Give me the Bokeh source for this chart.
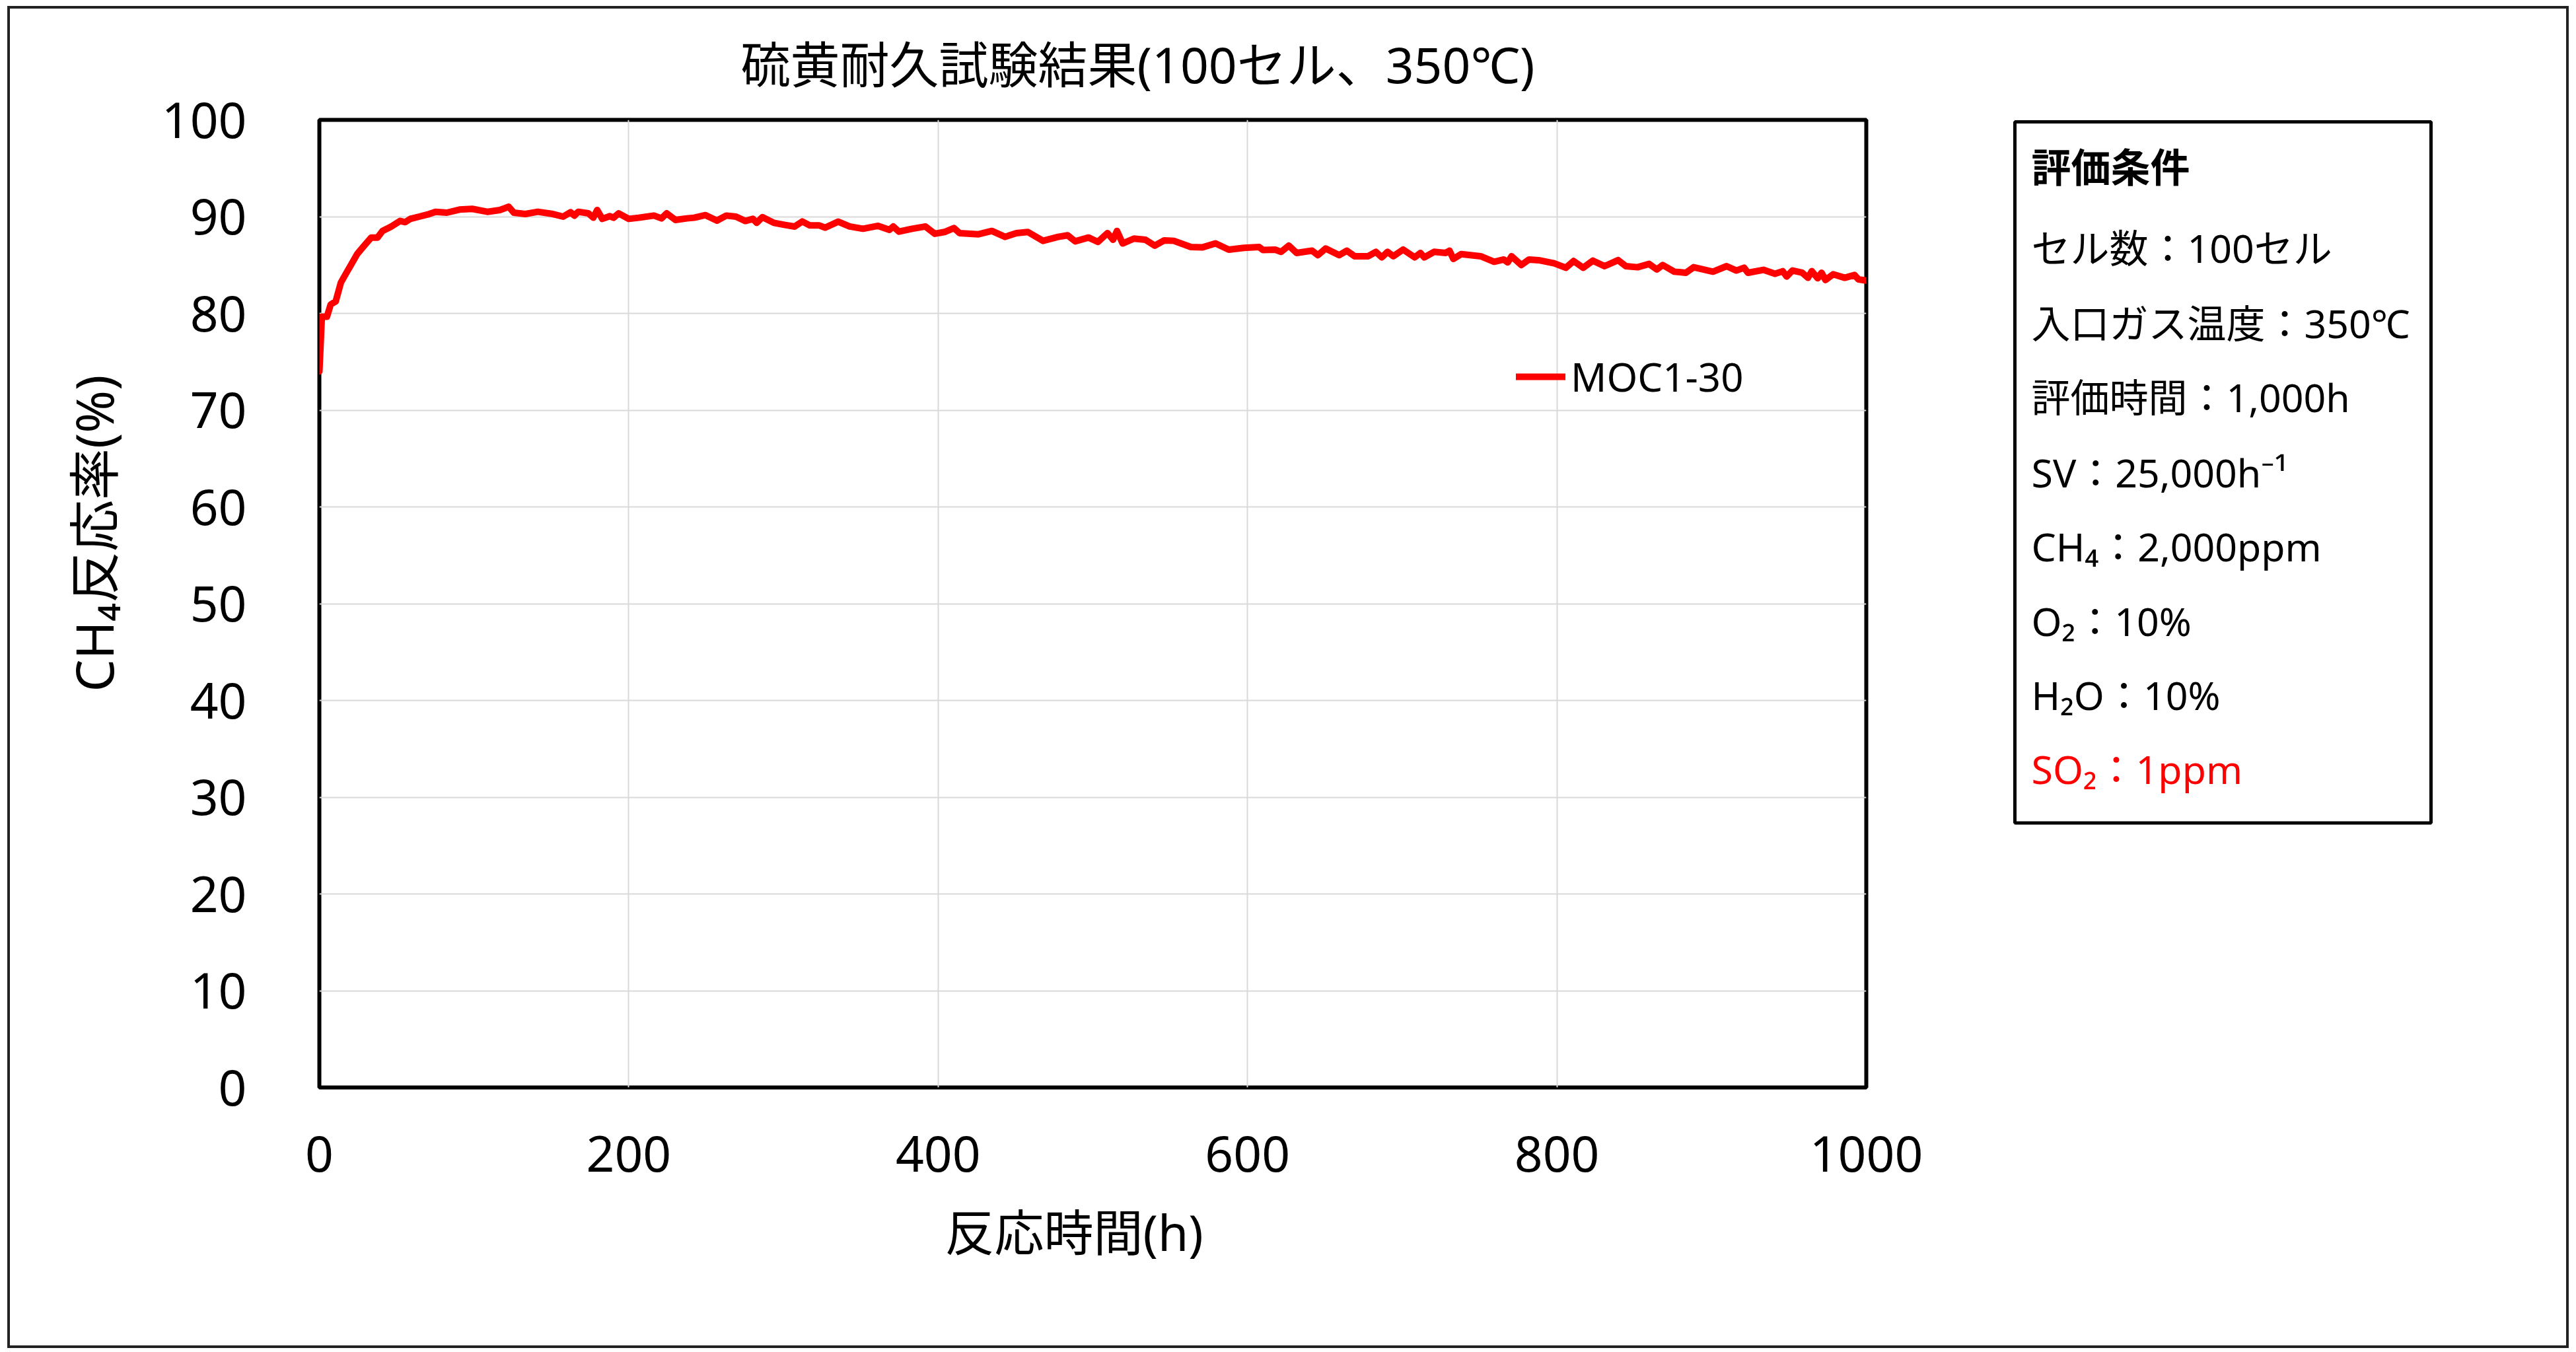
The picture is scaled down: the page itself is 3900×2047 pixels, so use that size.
from bokeh.plotting import figure
from bokeh.layouts import row
from bokeh.models import Range1d, FixedTicker, Title
from bokeh.core.properties import value
from bokeh.embed import file_html
from bokeh.resources import INLINE

# ---------------- data ----------------
hours = [0, 1.6, 4.9, 7.3, 10.6, 13.9, 17.1, 20.4, 24.5, 28.6, 33.5, 37.6, 40.8, 46.5,
         52.2, 55.5, 58.8, 64.5, 71, 75.1, 82.4, 90.6, 98.8, 108.6, 116.7, 122.4, 125.7,
         133.1, 141.2, 151, 157.6, 162.4, 164.9, 167.3, 173.9, 177.1, 179.6, 182.9, 187.8,
         190.2, 193.5, 200, 206.5, 216.3, 221.2, 224.5, 230.2, 237.6,
         242.3, 249.6, 257, 263.1, 269.3, 275.4, 280.3, 282.7, 286.4, 293.8, 301.1, 307.3,
         312.2, 317.1, 323.2, 326.9, 335.4, 342.8, 351.4, 361.2, 368.5, 371, 374.7, 383.2,
         391.8, 397.9, 404.1, 410.2, 413.9, 426.1, 434.7, 443.3, 450.6, 458, 467.8, 477.6,
         483.7, 488.6, 497.2, 503.3, 509.5, 513.1, 515.6, 519.3, 526.6, 534, 540.1, 546.2,
         552.4, 563.4, 570.7, 579.3, 587.9, 597.7, 607.5, 610,
         617.9, 621.7, 626.7, 631.7, 641.7, 645.5, 650.5, 659.2, 664.2, 669.2, 678, 683,
         686.8, 690.5, 694.3, 700.6, 708.1, 711.8, 714.3, 720.6, 728.1, 730.6, 733.1, 738.1,
         750.7, 759.4, 765.7, 768.2, 770.7, 777, 782, 788.2, 798.2, 805.8, 810.8, 817,
         823.3, 830.8, 839.6, 844.6, 852.1, 859.6, 864.6, 868.4, 875.9, 883.4, 888.4, 900.9,
         909.7, 916, 921, 923.5, 933.5, 941, 946, 948.5, 952.3, 958.6, 962.3, 964.8, 968.6,
         971.1, 973.6, 978.6, 986.1, 992.4, 994.9, 1000]
conversion = [74.0, 79.66, 79.66, 80.91, 81.25, 83.18, 84.09, 85.0, 86.14, 86.93, 87.84, 87.84,
              88.52, 88.98, 89.55, 89.43, 89.77, 90.0, 90.27, 90.5, 90.41, 90.73, 90.8, 90.5,
              90.68, 91.02, 90.41, 90.27, 90.5, 90.27, 90.0, 90.45, 90.11, 90.5, 90.34, 89.89,
              90.68, 89.77, 90.05, 89.89, 90.34, 89.77, 89.89, 90.11, 89.82, 90.34, 89.66, 89.82,
              89.89, 90.16, 89.59, 90.11, 90.0, 89.55, 89.77, 89.36, 89.95, 89.36, 89.14, 88.98,
              89.5, 89.09, 89.09, 88.86, 89.48, 88.98, 88.75, 89.05, 88.64, 88.98, 88.45, 88.75,
              88.98, 88.23, 88.41, 88.82, 88.3, 88.18, 88.52, 87.91, 88.3, 88.41, 87.5, 87.91,
              88.07, 87.45, 87.84, 87.39, 88.3, 87.61, 88.52, 87.23, 87.73, 87.61, 87.0, 87.55,
              87.5, 86.86, 86.82, 87.23, 86.59, 86.77, 86.86, 86.55,
              86.59, 86.36, 87.0, 86.25, 86.48, 86.02, 86.7, 86.02, 86.48, 85.91, 85.91, 86.36,
              85.79, 86.36, 85.91, 86.59, 85.79, 86.25, 85.79, 86.36, 86.25, 86.48, 85.63, 86.13,
              85.91, 85.34, 85.57, 85.27, 85.91, 85.0, 85.57, 85.5, 85.18, 84.72, 85.41, 84.72,
              85.45, 84.88, 85.5, 84.88, 84.77, 85.11, 84.54, 85.0, 84.31, 84.2, 84.77, 84.31,
              84.88, 84.43, 84.72, 84.2, 84.5, 84.09, 84.36, 83.81, 84.43, 84.2, 83.68, 84.36, 83.63,
              84.2, 83.45, 84.04, 83.68, 83.97, 83.52, 83.4]
series_name = "MOC1-30"
x_ticks = [0, 200, 400, 600, 800, 1000]
y_ticks = [0, 10, 20, 30, 40, 50, 60, 70, 80, 90, 100]
chart_title = "硫黄耐久試験結果(100セル、350℃)"
x_label = "反応時間(h)"
y_label = "CH₄反応率(%)"
cond_title = "評価条件"
cond_lines = ["セル数：100セル", "入口ガス温度：350℃", "評価時間：1,000h", "SV：25,000h⁻¹",
              "CH₄：2,000ppm", "O₂：10%", "H₂O：10%"]
cond_alert = "SO₂：1ppm"

FONT = "'Noto Sans', 'Noto Sans CJK JP'"

# ---------------- main chart ----------------
p = figure(width=3000, height=2024, output_backend="svg", toolbar_location=None,
           x_range=Range1d(0, 1000), y_range=Range1d(0, 100),
           min_border_left=468, min_border_right=190, min_border_top=166, min_border_bottom=391)
p.background_fill_color = "white"
p.border_fill_color = "white"
p.outline_line_color = "black"
p.outline_line_width = 6

p.title.text = chart_title
p.title.align = "left"
p.title.vertical_align = "top"
p.title.offset = 638
p.title.standoff = 64
p.title.text_font = FONT
p.title.text_font_size = "75px"
p.title.text_font_style = "normal"
p.title.text_color = "black"

p.line(hours, conversion, line_color="#ff0000", line_width=10, line_join="round",
       line_cap="round", legend_label=series_name)

for ax in (p.xaxis[0], p.yaxis[0]):
    ax.axis_line_color = None
    ax.major_tick_line_color = None
    ax.minor_tick_line_color = None
    ax.major_tick_out = 0
    ax.major_tick_in = 0
    ax.major_label_text_font = FONT
    ax.major_label_text_font_size = "75px"
    ax.major_label_text_color = "black"

p.xaxis.ticker = FixedTicker(ticks=x_ticks)
p.yaxis.ticker = FixedTicker(ticks=y_ticks)
p.xaxis.major_label_standoff = 73
p.yaxis.major_label_standoff = 110

p.xgrid.ticker = FixedTicker(ticks=x_ticks)
p.ygrid.ticker = FixedTicker(ticks=y_ticks)
p.grid.grid_line_color = "#d9d9d9"
p.grid.grid_line_width = 2

# x-axis title, placed like the original (slightly left of centre)
p.add_layout(Title(text=x_label, align="left", vertical_align="top", offset=947, standoff=74,
                   text_font=FONT, text_font_size="75px", text_font_style="normal",
                   text_color="black"), "below")

# y-axis title, placed like the original (shifted up from the centre)
p.add_layout(Title(text=y_label, align="left", offset=599, standoff=93,
                   text_font=FONT, text_font_size="78px", text_font_style="normal",
                   text_color="black"), "left")

lg = p.legend[0]
lg.location = (1812, 1035)
lg.background_fill_alpha = 0
lg.border_line_alpha = 0
lg.padding = 0
lg.margin = 0
lg.spacing = 0
lg.glyph_width = 75
lg.glyph_height = 60
lg.label_standoff = 8
lg.label_text_font = FONT
lg.label_text_font_size = "60px"
lg.label_text_color = "black"

# ---------------- conditions panel (page-pixel coordinates) ----------------
b = figure(width=870, height=2024, output_backend="svg", toolbar_location=None, title=None,
           x_axis_location=None, y_axis_location=None,
           x_range=Range1d(3015, 3885), y_range=Range1d(1646, 179),
           min_border_left=0, min_border_right=0, min_border_top=166, min_border_bottom=391)
b.grid.visible = False
b.background_fill_color = "white"
b.border_fill_color = "white"
b.outline_line_color = None

b.quad(left=[3050], right=[3680], top=[182], bottom=[1245], fill_alpha=0,
       line_color="black", line_width=5)
line_y = [251, 373, 487, 599, 713, 825, 939, 1051, 1163]
b.text(x=[3075], y=[line_y[0]], text=[cond_title], text_align="left", text_baseline="middle",
       text_font=value(FONT), text_font_size="60px", text_font_style="bold",
       text_color="black")
b.text(x=[3075] * len(cond_lines), y=line_y[1:1 + len(cond_lines)], text=cond_lines,
       text_align="left", text_baseline="middle", text_font=value(FONT),
       text_font_size="59px", text_color="black")
b.text(x=[3075], y=[line_y[-1]], text=[cond_alert], text_align="left", text_baseline="middle",
       text_font=value(FONT), text_font_size="59px", text_color="#ff0000")

layout = row(p, b, margin=(9, 0, 0, 11), styles={"border": "4px solid #222222"})

open("out.html", "w").write(file_html(layout, INLINE))
